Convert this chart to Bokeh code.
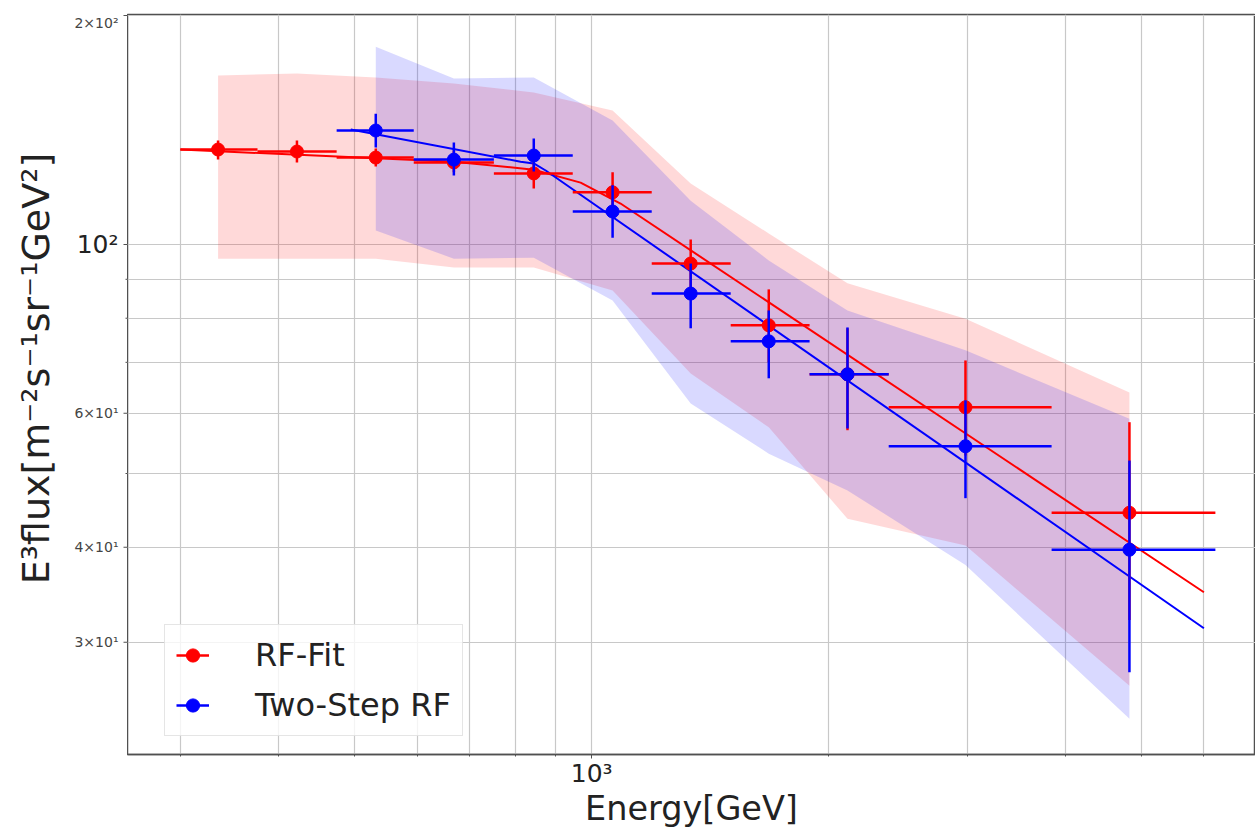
import math
from bokeh.plotting import figure
from bokeh.layouts import row
from bokeh.models import FixedTicker, Range1d, Legend, LegendItem
from bokeh.core.properties import value
from bokeh.embed import file_html
from bokeh.resources import INLINE

# ---- data ----
# energy bins [GeV]
energy = [335, 422, 531.5, 668, 844, 1063, 1336, 1679, 2114, 2986, 4825]
energy_lo = [300, 376, 474, 594, 751, 946, 1192, 1502, 1892, 2385, 3842]
energy_hi = [376, 474, 594, 751, 946, 1192, 1502, 1892, 2385, 3842, 6205]

# RF-Fit
rf_flux = [133.3, 132.5, 130.1, 128.2, 124.0, 117.1, 94.4, 78.3, 67.5, 61.1, 44.4]
rf_err_hi = [137.0, 137.0, 133.7, 132.9, 128.2, 124.4, 101.5, 87.3, 77.6, 70.4, 58.4]
rf_err_lo = [129.3, 128.2, 126.6, 124.4, 118.5, 110.8, 87.8, 70.0, 57.0, 52.8, 32.1]
rf_band_hi = [166.8, 167.8, 165.8, 162.8, 158.4, 150.0, 120.3, 103.4, 88.9, 79.9, 63.9]
rf_band_lo = [95.8, 95.8, 95.8, 93.3, 93.3, 87.0, 67.7, 57.5, 43.6, 40.2, 26.3]
rf_fit_e = [300, 668, 844, 968, 1088, 6000]
rf_fit_f = [133.3, 128.5, 125.4, 120.6, 113.2, 34.9]

# Two-Step RF
ts_energy = [531.5, 668, 844, 1063, 1336, 1679, 2114, 2986, 4825]
ts_energy_lo = [474, 594, 751, 946, 1192, 1502, 1892, 2385, 3842]
ts_energy_hi = [594, 751, 946, 1192, 1502, 1892, 2385, 3842, 6205]
ts_flux = [141.2, 129.3, 130.9, 110.5, 86.2, 74.6, 67.5, 54.3, 39.7]
ts_err_hi = [148.6, 136.2, 137.8, 119.6, 94.4, 81.9, 77.8, 62.4, 52.0]
ts_err_lo = [134.1, 123.2, 124.7, 102.1, 77.6, 66.7, 57.3, 46.4, 27.4]
ts_band_hi = [182.0, 165.3, 165.8, 145.5, 114.2, 95.3, 81.9, 72.6, 59.0]
ts_band_lo = [104.3, 95.8, 96.1, 84.4, 61.8, 53.1, 47.5, 37.9, 23.8]
ts_fit_e = [494, 812, 844, 874, 6000]
ts_fit_f = [141.6, 128.5, 127.8, 125.1, 31.3]

# ticks
x_major = [1000]
x_major_labels = {1000: "10³"}
x_minor = [300, 400, 500, 600, 700, 800, 900, 2000, 3000, 4000, 5000, 6000]
y_major = [30, 40, 60, 100, 200]
y_major_labels = ["3×10¹", "4×10¹", "6×10¹", "10²", "2×10²"]
y_minor = [50, 70, 80, 90]

X_TITLE = "Energy[GeV]"
Y_TITLE = "E³flux[m⁻²s⁻¹sr⁻¹GeV²]"

RED = "#ff0000"
BLUE = "#0000ff"
FONT = "DejaVu Sans"
SPINE = "#505050"
X_START, X_END = 257, 6978
Y_START, Y_END = 21.36, 200.6
LEFT_W = 127          # width of the strip that carries the y-axis texts
TOTAL_W, TOTAL_H = 1255, 831
TOP, BOTTOM = 14, 77
FRAME_H = TOTAL_H - TOP - BOTTOM

y_range = Range1d(Y_START, Y_END)

# ---------------- main plot ----------------
p = figure(width=TOTAL_W - LEFT_W, height=TOTAL_H, x_axis_type="log", y_axis_type="log",
           x_range=Range1d(X_START, X_END), y_range=y_range,
           output_backend="svg", toolbar_location=None,
           min_border_left=0, min_border_right=0, min_border_top=TOP,
           min_border_bottom=BOTTOM)
p.background_fill_color = "white"
p.border_fill_color = "white"
p.outline_line_color = SPINE
p.outline_line_width = 1.5

ax = p.xaxis[0]
ax.ticker = FixedTicker(ticks=x_major, minor_ticks=x_minor)
ax.major_label_overrides = x_major_labels
ax.axis_label = X_TITLE
ax.axis_label_text_font = FONT
ax.axis_label_text_font_style = "normal"
ax.axis_label_text_font_size = "33.5px"
ax.axis_label_text_color = "#222222"
ax.axis_label_standoff = -2
ax.major_label_text_font = FONT
ax.major_label_text_font_size = "25px"
ax.major_label_text_color = "#222222"
ax.major_label_standoff = 0
ax.major_tick_out = 4
ax.major_tick_in = 0
ax.minor_tick_out = 2
ax.minor_tick_in = 0
ax.axis_line_width = 1.5
ax.axis_line_color = SPINE
ax.major_tick_line_color = SPINE
ax.minor_tick_line_color = SPINE

p.yaxis.visible = False
p.ygrid[0].ticker = FixedTicker(ticks=y_major, minor_ticks=y_minor)

for g in (p.xgrid[0], p.ygrid[0]):
    g.grid_line_color = "#c8c8c8"
    g.grid_line_width = 1.2
    g.minor_grid_line_color = "#c8c8c8"
    g.minor_grid_line_width = 1.2

# bands
p.varea(x=energy, y1=rf_band_lo, y2=rf_band_hi, fill_color=RED, fill_alpha=0.15)
p.varea(x=ts_energy, y1=ts_band_lo, y2=ts_band_hi, fill_color=BLUE, fill_alpha=0.15)

# fit lines
p.line(rf_fit_e, rf_fit_f, line_color=RED, line_width=2)
p.line(ts_fit_e, ts_fit_f, line_color=BLUE, line_width=2)

# error bars + points
rf_h = p.segment(x0=energy_lo, y0=rf_flux, x1=energy_hi, y1=rf_flux,
                 line_color=RED, line_width=2.5)
p.segment(x0=energy, y0=rf_err_lo, x1=energy, y1=rf_err_hi,
          line_color=RED, line_width=2.5)
rf_pt = p.scatter(energy, rf_flux, size=13, fill_color=RED, line_color=RED)

ts_h = p.segment(x0=ts_energy_lo, y0=ts_flux, x1=ts_energy_hi, y1=ts_flux,
                 line_color=BLUE, line_width=2.5)
p.segment(x0=ts_energy, y0=ts_err_lo, x1=ts_energy, y1=ts_err_hi,
          line_color=BLUE, line_width=2.5)
ts_pt = p.scatter(ts_energy, ts_flux, size=13, fill_color=BLUE, line_color=BLUE)

legend = Legend(items=[LegendItem(label="RF-Fit", renderers=[rf_h, rf_pt]),
                       LegendItem(label="Two-Step RF", renderers=[ts_h, ts_pt])],
                location=(37, 18), padding=11, spacing=12,
                glyph_width=33, glyph_height=34, label_standoff=46,
                label_text_font=FONT, label_text_font_size="32px",
                label_text_color="#222222",
                border_line_color="#cccccc", border_line_width=1,
                background_fill_color="white", background_fill_alpha=0.8)
p.add_layout(legend)

# ---------------- left strip: y-axis ticks, tick labels and title ----------------
lf = figure(width=LEFT_W, height=TOTAL_H, x_range=Range1d(0, LEFT_W), y_range=y_range,
            y_axis_type="log", output_backend="svg", toolbar_location=None,
            min_border_left=0, min_border_right=0, min_border_top=TOP,
            min_border_bottom=BOTTOM)
lf.background_fill_color = "white"
lf.border_fill_color = "white"
lf.outline_line_color = None
lf.grid.visible = False
lf.xaxis.visible = False
lf.yaxis.visible = False

lf.segment(x0=[LEFT_W - 4] * len(y_major), x1=[LEFT_W] * len(y_major),
           y0=y_major, y1=y_major, line_color=SPINE, line_width=1.2)
lf.segment(x0=[LEFT_W - 2] * len(y_minor), x1=[LEFT_W] * len(y_minor),
           y0=y_minor, y1=y_minor, line_color=SPINE, line_width=1.0)

# tick labels: the decade label is large, the others small; the top one hangs
# below its tick so that it stays inside the strip
top_val = max(y_major)
mid_vals = [v for v in y_major if v != top_val]
mid_labels = [t for v, t in zip(y_major, y_major_labels) if v != top_val]
top_label = [t for v, t in zip(y_major, y_major_labels) if v == top_val]
mid_sizes = ["25px" if v == 100 else "14px" for v in mid_vals]
mid_colors = ["#222222" if v == 100 else "#444444" for v in mid_vals]
lf.text(x=[LEFT_W - 9] * len(mid_vals), y=mid_vals, text=mid_labels,
        text_font=value(FONT), text_font_size=mid_sizes, text_color=mid_colors,
        text_align="right", text_baseline="middle")
lf.text(x=[LEFT_W - 9], y=[top_val], text=top_label,
        text_font=value(FONT), text_font_size="14px", text_color="#444444",
        text_align="right", text_baseline="top")

# y title, a little above the frame centre as in the original
k = (math.log10(Y_END) - math.log10(Y_START)) / FRAME_H
y_title_pos = 10 ** ((math.log10(Y_START) + math.log10(Y_END)) / 2 + 16 * k)
lf.text(x=[35], y=[y_title_pos], text=[Y_TITLE], angle=math.pi / 2,
        text_font=value(FONT), text_font_size="38px", text_color="#222222",
        text_align="center", text_baseline="middle")

layout = row(lf, p)
open("out.html", "w").write(file_html(layout, INLINE))
